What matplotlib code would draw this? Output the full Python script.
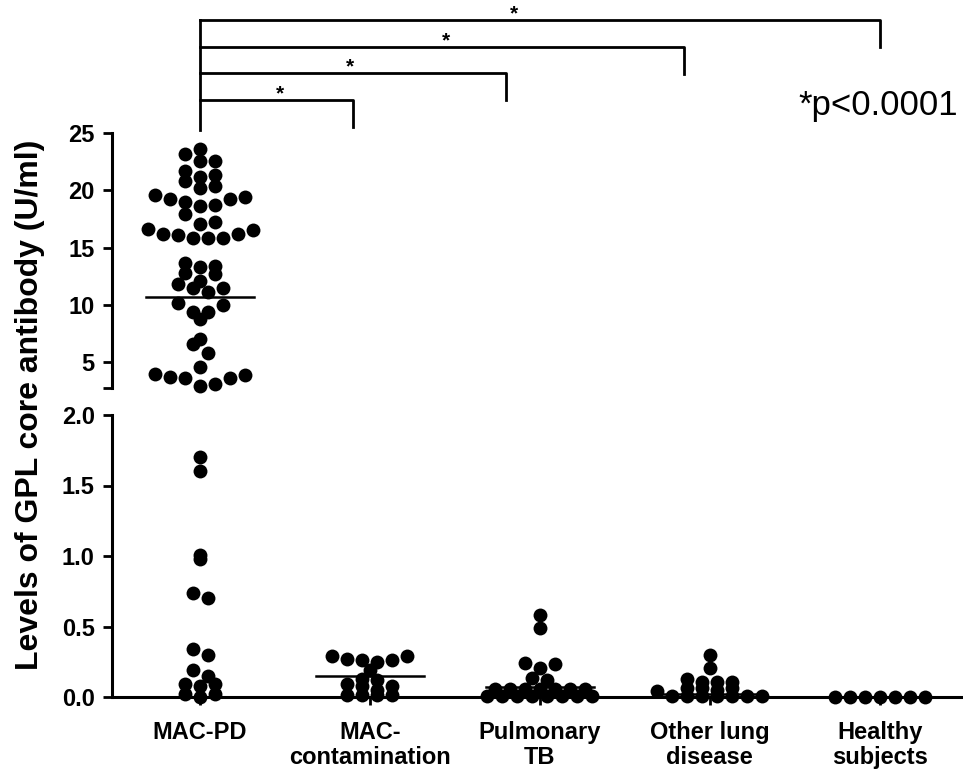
import matplotlib
matplotlib.use('Agg')
import matplotlib.pyplot as plt
import matplotlib.transforms as mtransforms
import numpy as np

plt.rcParams['font.family'] = ['Liberation Sans', 'DejaVu Sans']

# ---- data (U/ml) ----
groups = ['MAC-PD', 'MAC-\ncontamination', 'Pulmonary\nTB', 'Other lung\ndisease', 'Healthy\nsubjects']

mac_pd = [23.6, 22.6, 23.2, 22.6, 21.7, 21.3, 21.2, 20.8, 20.2, 20.4,
          19.6, 19.2, 19.0, 18.6, 18.7, 19.2, 19.4, 17.9, 17.1, 17.2,
          16.2, 16.1, 16.6, 15.8, 15.8, 15.8, 16.2, 16.5, 13.7, 12.8,
          13.3, 13.4, 12.7, 12.1, 11.5, 11.8, 11.5, 11.1, 10.0, 10.2,
          9.4, 9.4, 8.8, 7.0, 6.6, 5.8, 4.6, 4.0, 3.7, 3.6,
          2.9, 3.1, 3.6, 3.9,
          1.70, 1.60, 0.98, 1.01, 0.74, 0.70, 0.30, 0.34, 0.15, 0.19,
          0.09, 0.095, 0.075, 0.02, 0.0, 0.02]
mac_contam = [0.29, 0.26, 0.25, 0.26, 0.27, 0.29, 0.19, 0.13, 0.12, 0.09,
              0.075, 0.075, 0.05, 0.015, 0.015, 0.015, 0.015]
pulm_tb = [0.585, 0.49, 0.24, 0.233, 0.205, 0.137, 0.12,
           0.06, 0.06, 0.06, 0.06, 0.06, 0.06, 0.06,
           0.01, 0.01, 0.01, 0.01, 0.01, 0.01, 0.01, 0.01]
other_lung = [0.30, 0.205, 0.127, 0.108, 0.108, 0.108, 0.063, 0.063, 0.063, 0.05,
              0.045, 0.01, 0.01, 0.01, 0.01, 0.01, 0.01, 0.01]
healthy = [0.0, 0.0, 0.0, 0.0, 0.0, 0.0, 0.0]
group_means = [10.7, 0.15, 0.07, 0.02, 0.0]

# comparisons MAC-PD vs others, all *p<0.0001
bracket_right = [0.9, 1.8, 2.85, 4.0]
bracket_y_px = [100, 73, 47, 20]
star_x = [0.47, 0.88, 1.45, 1.85]

W, H = 963, 776
BREAK_LO, BREAK_HI = 2.75, 25
STEP = 15 / 170.0


def column_offsets(values, lo, bin_h, step):
    # prism-like column scatter: points in the same bin spread sideways,
    # lowest value in the middle
    values = np.asarray(values, float)
    offs = np.zeros(len(values))
    bins = np.floor((values - lo) / bin_h + 1e-9).astype(int)
    for b in np.unique(bins):
        idx = np.where(bins == b)[0]
        idx = idx[np.argsort(values[idx], kind='stable')]
        n = len(idx)
        if n % 2:
            slots = [0] + [s for k in range(1, n) for s in (k, -k)]
        else:
            slots = [s for k in range(n) for s in (k + 0.5, -(k + 0.5))]
        for i, j in enumerate(idx):
            offs[j] = slots[i] * step
    return offs


def box(left, top, right, bottom):
    return [left / W, 1 - bottom / H, (right - left) / W, (bottom - top) / H]


fig = plt.figure(figsize=(W / 100, H / 100), dpi=100)
ax_hi = fig.add_axes(box(112, 133, 963, 388))
ax_lo = fig.add_axes(box(112, 415, 963, 697))

for ax in (ax_hi, ax_lo):
    ax.set_xlim(-0.518, 4.49)
    for s in ('top', 'right'):
        ax.spines[s].set_visible(False)
    ax.spines['left'].set_linewidth(2.2)
    ax.spines['bottom'].set_linewidth(2.2)
    ax.tick_params(axis='both', direction='out', length=6.5, width=2,
                   labelsize=17, pad=6)

ax_hi.spines['bottom'].set_visible(False)
ax_hi.set_xticks([])
ax_hi.set_ylim(BREAK_LO, BREAK_HI)
ax_hi.set_yticks([BREAK_LO, 5, 10, 15, 20, 25])
ax_hi.set_yticklabels(['', '5', '10', '15', '20', '25'], fontweight='bold')

ax_lo.set_ylim(0, 2.0)
ax_lo.set_yticks([0, 0.5, 1.0, 1.5, 2.0])
ax_lo.set_yticklabels(['0.0', '0.5', '1.0', '1.5', '2.0'], fontweight='bold')
ax_lo.set_xticks(range(len(groups)))
ax_lo.set_xticklabels(groups, fontweight='bold', fontsize=17, linespacing=1.15)
ax_lo.tick_params(axis='x', length=6, pad=11)

all_groups = [mac_pd, mac_contam, pulm_tb, other_lung, healthy]
for i, vals in enumerate(all_groups):
    vals = np.asarray(vals, float)
    hi = vals[vals > 2.0]
    lo = vals[vals <= 2.0]
    if len(hi):
        ax_hi.scatter(i + column_offsets(hi, BREAK_LO, 1.3, STEP), hi, s=100,
                      color='black', linewidths=0, clip_on=False, zorder=3)
    if len(lo):
        ax_lo.scatter(i + column_offsets(lo, 0.0, 0.05, STEP), lo, s=100,
                      color='black', linewidths=0, clip_on=False, zorder=3)
    m = group_means[i]
    ax_m = ax_hi if m > 2.0 else ax_lo
    ax_m.plot([i - 0.32, i + 0.32], [m, m], color='black', lw=1.8,
              clip_on=False, zorder=4)

# significance brackets
tr = mtransforms.blended_transform_factory(ax_hi.transData, fig.transFigure)
fy = lambda p: 1 - p / H
ax_hi.plot([0, 0], [fy(20), fy(130)], color='black', lw=2, transform=tr, clip_on=False)
for xr, yp, xs in zip(bracket_right, bracket_y_px, star_x):
    ax_hi.plot([0, xr, xr], [fy(yp), fy(yp), fy(yp + 27)], color='black', lw=2,
               transform=tr, clip_on=False)
    ax_hi.text(xs, fy(yp + 3), '*', transform=tr, ha='center', va='bottom',
               fontsize=15, fontweight='bold')

fig.text(958 / W, fy(105), '*p<0.0001', ha='right', va='center', fontsize=25)
fig.text(30 / W, fy(405), 'Levels of GPL core antibody (U/ml)', rotation=90,
         ha='center', va='center', fontsize=23, fontweight='bold')

fig.savefig('out.png', dpi=100)
